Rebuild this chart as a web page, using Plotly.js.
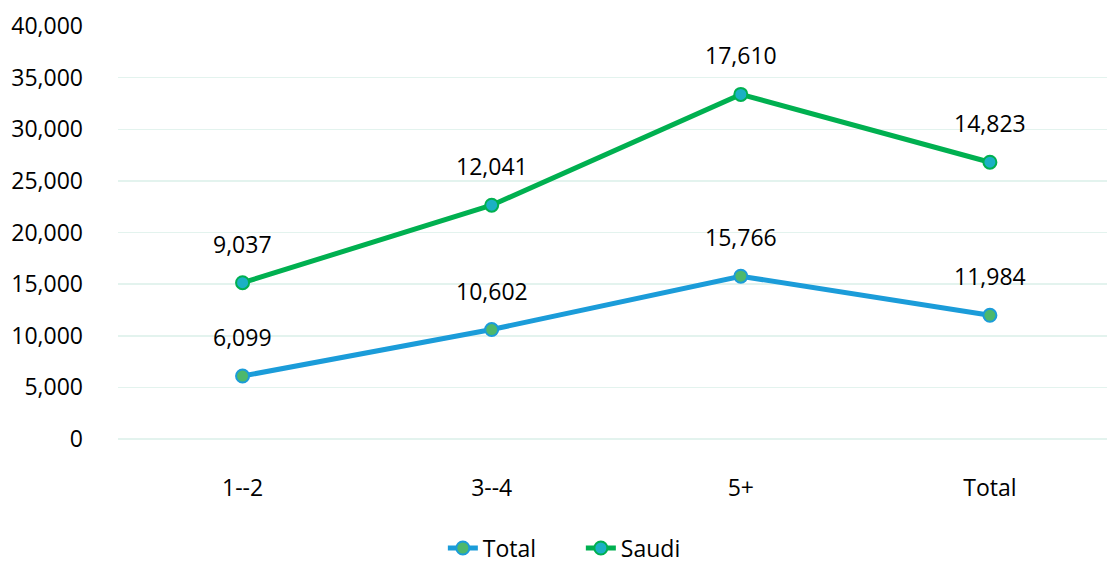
<!DOCTYPE html>
<html><head><meta charset="utf-8">
<script src="https://cdn.plot.ly/plotly-3.0.1.min.js"></script>
<style>html,body{margin:0;padding:0;background:#fff;}#chart{width:1107px;height:565px;}</style>
</head><body><div id="chart"></div>
<script>
const categories = ["1--2", "3--4", "5+", "Total"];
const totalValues = [6099, 10602, 15766, 11984];
const saudiValues = [9037, 12041, 17610, 14823];
const yTicks = [0, 5000, 10000, 15000, 20000, 25000, 30000, 35000, 40000];

// stacked line: Saudi drawn on top of Total
const saudiStacked = saudiValues.map((v, i) => v + totalValues[i]);
const fmt = v => v.toLocaleString('en-US');

const FONT = '"Open Sans", "Noto Sans", sans-serif';
const FS = 23;

const traces = [
  {
    x: categories, y: totalValues, name: 'Total', type: 'scatter', mode: 'lines+markers',
    line: {color: '#1B9CD9', width: 5},
    marker: {size: 13, color: '#4DB86C', line: {color: '#1B9CD9', width: 2}},
    hoverinfo: 'skip'
  },
  {
    x: categories, y: saudiStacked, name: 'Saudi', type: 'scatter', mode: 'lines+markers',
    line: {color: '#00B050', width: 5},
    marker: {size: 13, color: '#1BB0C4', line: {color: '#00B050', width: 2}},
    hoverinfo: 'skip'
  }
];

const annotations = [];
categories.forEach((c, i) => {
  annotations.push({x: c, y: totalValues[i], text: fmt(totalValues[i]), showarrow: false,
    yshift: 39, font: {family: FONT, size: FS, color: '#000'}});
  annotations.push({x: c, y: saudiStacked[i], text: fmt(saudiValues[i]), showarrow: false,
    yshift: 39, font: {family: FONT, size: FS, color: '#000'}});
});

const layout = {
  width: 1107, height: 565,
  margin: {l: 118, r: 0, t: 26, b: 126, autoexpand: false},
  paper_bgcolor: '#fff', plot_bgcolor: '#fff',
  font: {family: FONT, size: FS, color: '#000'},
  showlegend: true,
  legend: {orientation: 'h', x: 0.468, xanchor: 'center', y: -0.212, yanchor: 'top',
    entrywidth: 93, entrywidthmode: 'pixels', bgcolor: 'rgba(0,0,0,0)',
    font: {family: FONT, size: FS, color: '#000'}, traceorder: 'normal'},
  xaxis: {type: 'category', range: [-0.5, 3.47], showgrid: false, zeroline: false, showline: false,
    automargin: false, ticks: '', ticklabelstandoff: 33, tickfont: {family: FONT, size: FS}},
  yaxis: {range: [0, 40000], tickvals: yTicks, ticktext: yTicks.map(fmt), automargin: false,
    showgrid: true, gridcolor: '#E3F3EE', gridwidth: 1.5, zeroline: true, zerolinecolor: '#E3F3EE', zerolinewidth: 1.5,
    showline: false, ticks: '', ticklabelstandoff: 34, tickfont: {family: FONT, size: FS}},
  annotations: annotations
};

Plotly.newPlot('chart', traces, layout, {displayModeBar: false, staticPlot: true});
</script></body></html>
